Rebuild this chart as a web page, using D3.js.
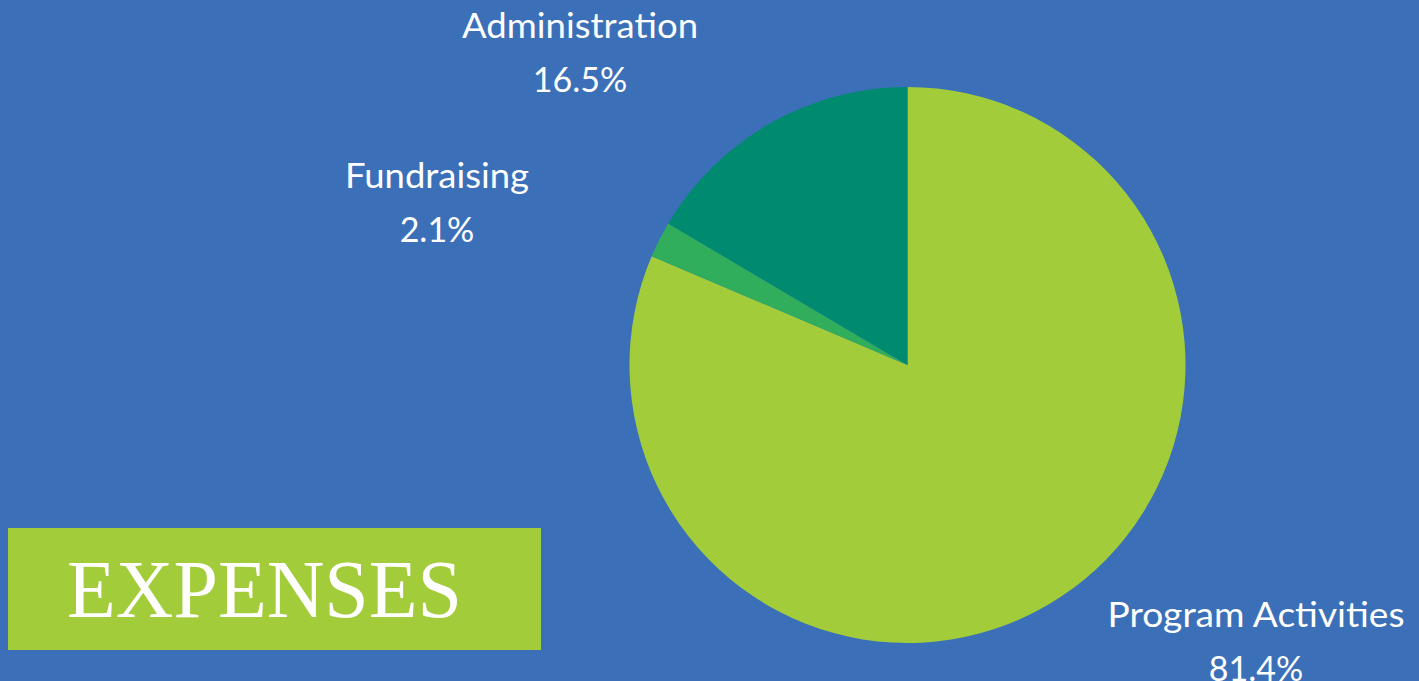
<!DOCTYPE html>
<html>
<head>
<meta charset="utf-8">
<script src="https://cdn.jsdelivr.net/npm/d3@7"></script>
<style>
  html, body { margin: 0; padding: 0; background: #3b70b8; overflow: hidden; }
  svg { display: block; }
</style>
</head>
<body>
<svg id="chart"></svg>
<script>
// data
const categories = ['Program Activities', 'Fundraising', 'Administration'];
const shares = [81.4, 2.1, 16.5];
const sliceColors = ['#a2cc3a', '#31ae5b', '#008a70'];
const title = 'EXPENSES';

const width = 1419;
const height = 681;
const svg = d3.select('#chart').attr('width', width).attr('height', height);

svg.append('rect').attr('width', width).attr('height', height).attr('fill', '#3b70b8');

const cx = 907.5, cy = 365, radius = 278;
const rows = categories.map((name, i) => ({ name, v: shares[i], color: sliceColors[i] }));

const pie = d3.pie().value((d) => d.v).sort(null);
const arc = d3.arc().innerRadius(0).outerRadius(radius);

svg.append('g').attr('transform', `translate(${cx},${cy})`)
  .selectAll('path').data(pie(rows)).join('path')
  .attr('d', arc)
  .attr('fill', (d) => d.data.color);

// labels are placed by hand in the original, keep the anchors here
const labelAt = {
  'Program Activities': [1256, 627, 297],
  'Fundraising': [437, 188, 184],
  'Administration': [580, 38, 236],
};
const fmt = (v) => `${d3.format('.1f')(v)}%`;

const lab = svg.append('g')
  .attr('font-family', 'Lato, "Open Sans", sans-serif')
  .attr('font-size', 34)
  .attr('fill', '#ffffff')
  .attr('text-anchor', 'middle');

rows.forEach((d) => {
  const [x, y, w] = labelAt[d.name];
  lab.append('text').attr('x', x).attr('y', y)
    .attr('textLength', w).attr('lengthAdjust', 'spacingAndGlyphs')
    .text(d.name);
  // the last value runs off the bottom edge in the original too
  lab.append('text').attr('x', x).attr('y', y + 54).text(fmt(d.v));
});

// title block
svg.append('rect').attr('x', 8).attr('y', 528).attr('width', 533).attr('height', 122).attr('fill', '#a2cc3a');
svg.append('text')
  .attr('x', 67).attr('y', 617)
  .attr('font-family', '"Liberation Serif", "DejaVu Serif", serif')
  .attr('font-size', 83)
  .attr('fill', '#ffffff')
  .attr('textLength', 395).attr('lengthAdjust', 'spacingAndGlyphs')
  .text(title);
</script>
</body>
</html>
